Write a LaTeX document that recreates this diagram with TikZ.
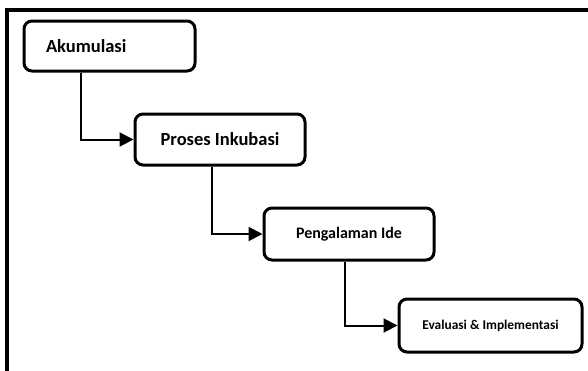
\documentclass[tikz,border=0pt]{standalone}
\usepackage{fontspec}
\setmainfont{Carlito}
\usetikzlibrary{arrows.meta, positioning}

\begin{document}
\begin{tikzpicture}[
  x=1pt, y=-1pt,
  every node/.style={font=\bfseries},
  stagebox/.style={rectangle, rounded corners=8pt, draw, line width=3pt, align=center, inner sep=0pt},
  link/.style={line width=2pt, -{Triangle[length=14pt, width=14pt]}},
]
\useasboundingbox (0,0) rectangle (588,370);

% Frame
\draw[line width=3.5pt] (7,372) -- (7,10) -- (590,10);

% Stages
\node[stagebox, minimum width=171pt, minimum height=50pt, text width=127pt, inner xsep=22pt, align=left, font=\bfseries\fontsize{18.5}{20}\selectfont] (aku) at (109.5,46) {Akumulasi};
\node[stagebox, minimum width=170pt, minimum height=51pt, font=\bfseries\fontsize{18.5}{20}\selectfont] (inkub) at (220,139.5) {Proses Inkubasi};
\node[stagebox, minimum width=170pt, minimum height=52pt, font=\bfseries\fontsize{16}{18}\selectfont] (ide) at (349,234) {Pengalaman Ide};
\node[stagebox, minimum width=183pt, minimum height=53pt, font=\bfseries\fontsize{13.4}{15}\selectfont] (eval) at (490.5,325.5) {Evaluasi \& Implementasi};

% Links
\draw[link] ([xshift=58pt]aku.south west) |- (inkub.west);
\draw[link] ([xshift=78pt]inkub.south west) |- (ide.west);
\draw[link] ([xshift=82pt]ide.south west) |- (eval.west);

\end{tikzpicture}
\end{document}
